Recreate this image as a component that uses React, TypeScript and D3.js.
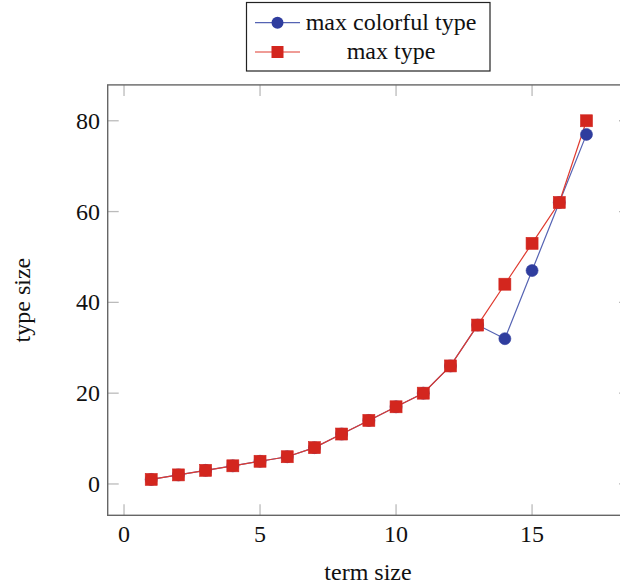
import React from "react";
import * as d3 from "d3";

const termSizes = [1, 2, 3, 4, 5, 6, 7, 8, 9, 10, 11, 12, 13, 14, 15, 16, 17];
const maxColorfulType = [1, 2, 3, 4, 5, 6, 8, 11, 14, 17, 20, 26, 35, 32, 47, 62, 77];
const maxType = [1, 2, 3, 4, 5, 6, 8, 11, 14, 17, 20, 26, 35, 44, 53, 62, 80];
const xTicks = [0, 5, 10, 15];
const yTicks = [0, 20, 40, 60, 80];

const W = 620;
const H = 587;
const FONT = "'Times New Roman', 'Liberation Serif', 'DejaVu Serif', serif";
const FS = 24;
const BLUE = "#2f3d9e";
const BLUE_LINE = "#5563b3";
const RED = "#d3261e";
const RED_LINE = "#df3a2f";
const txt = { fontFamily: FONT, fontSize: FS, fill: "#111" } as React.CSSProperties;

export default function App() {
  const x = d3.scaleLinear().domain([-0.6, 18.6]).range([107.7, 630]);
  const y = d3.scaleLinear().domain([-6.9, 87.9]).range([515.3, 84.9]);
  const left = x(-0.6), right = x(18.6), top = y(87.9), bottom = y(-6.9);
  const tick = 11;

  const line = d3
    .line<[number, number]>()
    .x((d) => x(d[0]))
    .y((d) => y(d[1]));

  const blueData: [number, number][] = termSizes.map((t, i) => [t, maxColorfulType[i]]);
  const redData: [number, number][] = termSizes.map((t, i) => [t, maxType[i]]);
  const sq = 12;
  const r = 6;

  return (
    <svg
      width={W}
      height={H}
      style={{ position: "absolute", left: 0, top: 0, background: "#fff" }}
    >
      <rect x={0} y={0} width={W} height={H} fill="#fff" />
      {xTicks.map((t) => (
        <g key={"xt" + t} stroke="#bbb" strokeWidth={1.3}>
          <line x1={x(t)} x2={x(t)} y1={bottom} y2={bottom - tick} />
          <line x1={x(t)} x2={x(t)} y1={top} y2={top + tick} />
        </g>
      ))}
      {yTicks.map((t) => (
        <g key={"yt" + t} stroke="#bbb" strokeWidth={1.3}>
          <line x1={left} x2={left + tick} y1={y(t)} y2={y(t)} />
          <line x1={right} x2={right - tick} y1={y(t)} y2={y(t)} />
        </g>
      ))}
      <path d={line(blueData) || ""} fill="none" stroke={BLUE_LINE} strokeWidth={1.2} />
      <path d={line(redData) || ""} fill="none" stroke={RED_LINE} strokeWidth={1.2} />
      {blueData.map((d, i) => (
        <circle key={"b" + i} cx={x(d[0])} cy={y(d[1])} r={r} fill={BLUE} stroke={BLUE} strokeWidth={0.6} />
      ))}
      {redData.map((d, i) => (
        <rect
          key={"r" + i}
          x={x(d[0]) - sq / 2}
          y={y(d[1]) - sq / 2}
          width={sq}
          height={sq}
          fill={RED}
          stroke={RED}
          strokeWidth={0.6}
        />
      ))}
      <rect x={left} y={top} width={right - left} height={bottom - top} fill="none" stroke="#666" strokeWidth={1.4} />
      {xTicks.map((t) => (
        <text key={"xl" + t} x={x(t)} y={542} textAnchor="middle" style={txt}>
          {t}
        </text>
      ))}
      {yTicks.map((t) => (
        <text key={"yl" + t} x={100} y={y(t) + 8} textAnchor="end" style={txt}>
          {t}
        </text>
      ))}
      <text x={368} y={580} textAnchor="middle" style={txt}>
        term size
      </text>
      <text
        transform={`translate(30, ${(top + bottom) / 2}) rotate(-90)`}
        textAnchor="middle"
        style={txt}
      >
        type size
      </text>
      <rect x={246.5} y={2.5} width={243.5} height={68.5} fill="#fff" stroke="#222" strokeWidth={1.2} />
      <line x1={255} x2={300} y1={22.7} y2={22.7} stroke={BLUE_LINE} strokeWidth={1.2} />
      <circle cx={277.5} cy={22.7} r={r} fill={BLUE} />
      <line x1={255} x2={300} y1={52} y2={52} stroke={RED_LINE} strokeWidth={1.2} />
      <rect x={277.5 - sq / 2} y={52 - sq / 2} width={sq} height={sq} fill={RED} />
      <text x={391} y={30} textAnchor="middle" style={txt}>
        max colorful type
      </text>
      <text x={391} y={59} textAnchor="middle" style={txt}>
        max type
      </text>
    </svg>
  );
}
